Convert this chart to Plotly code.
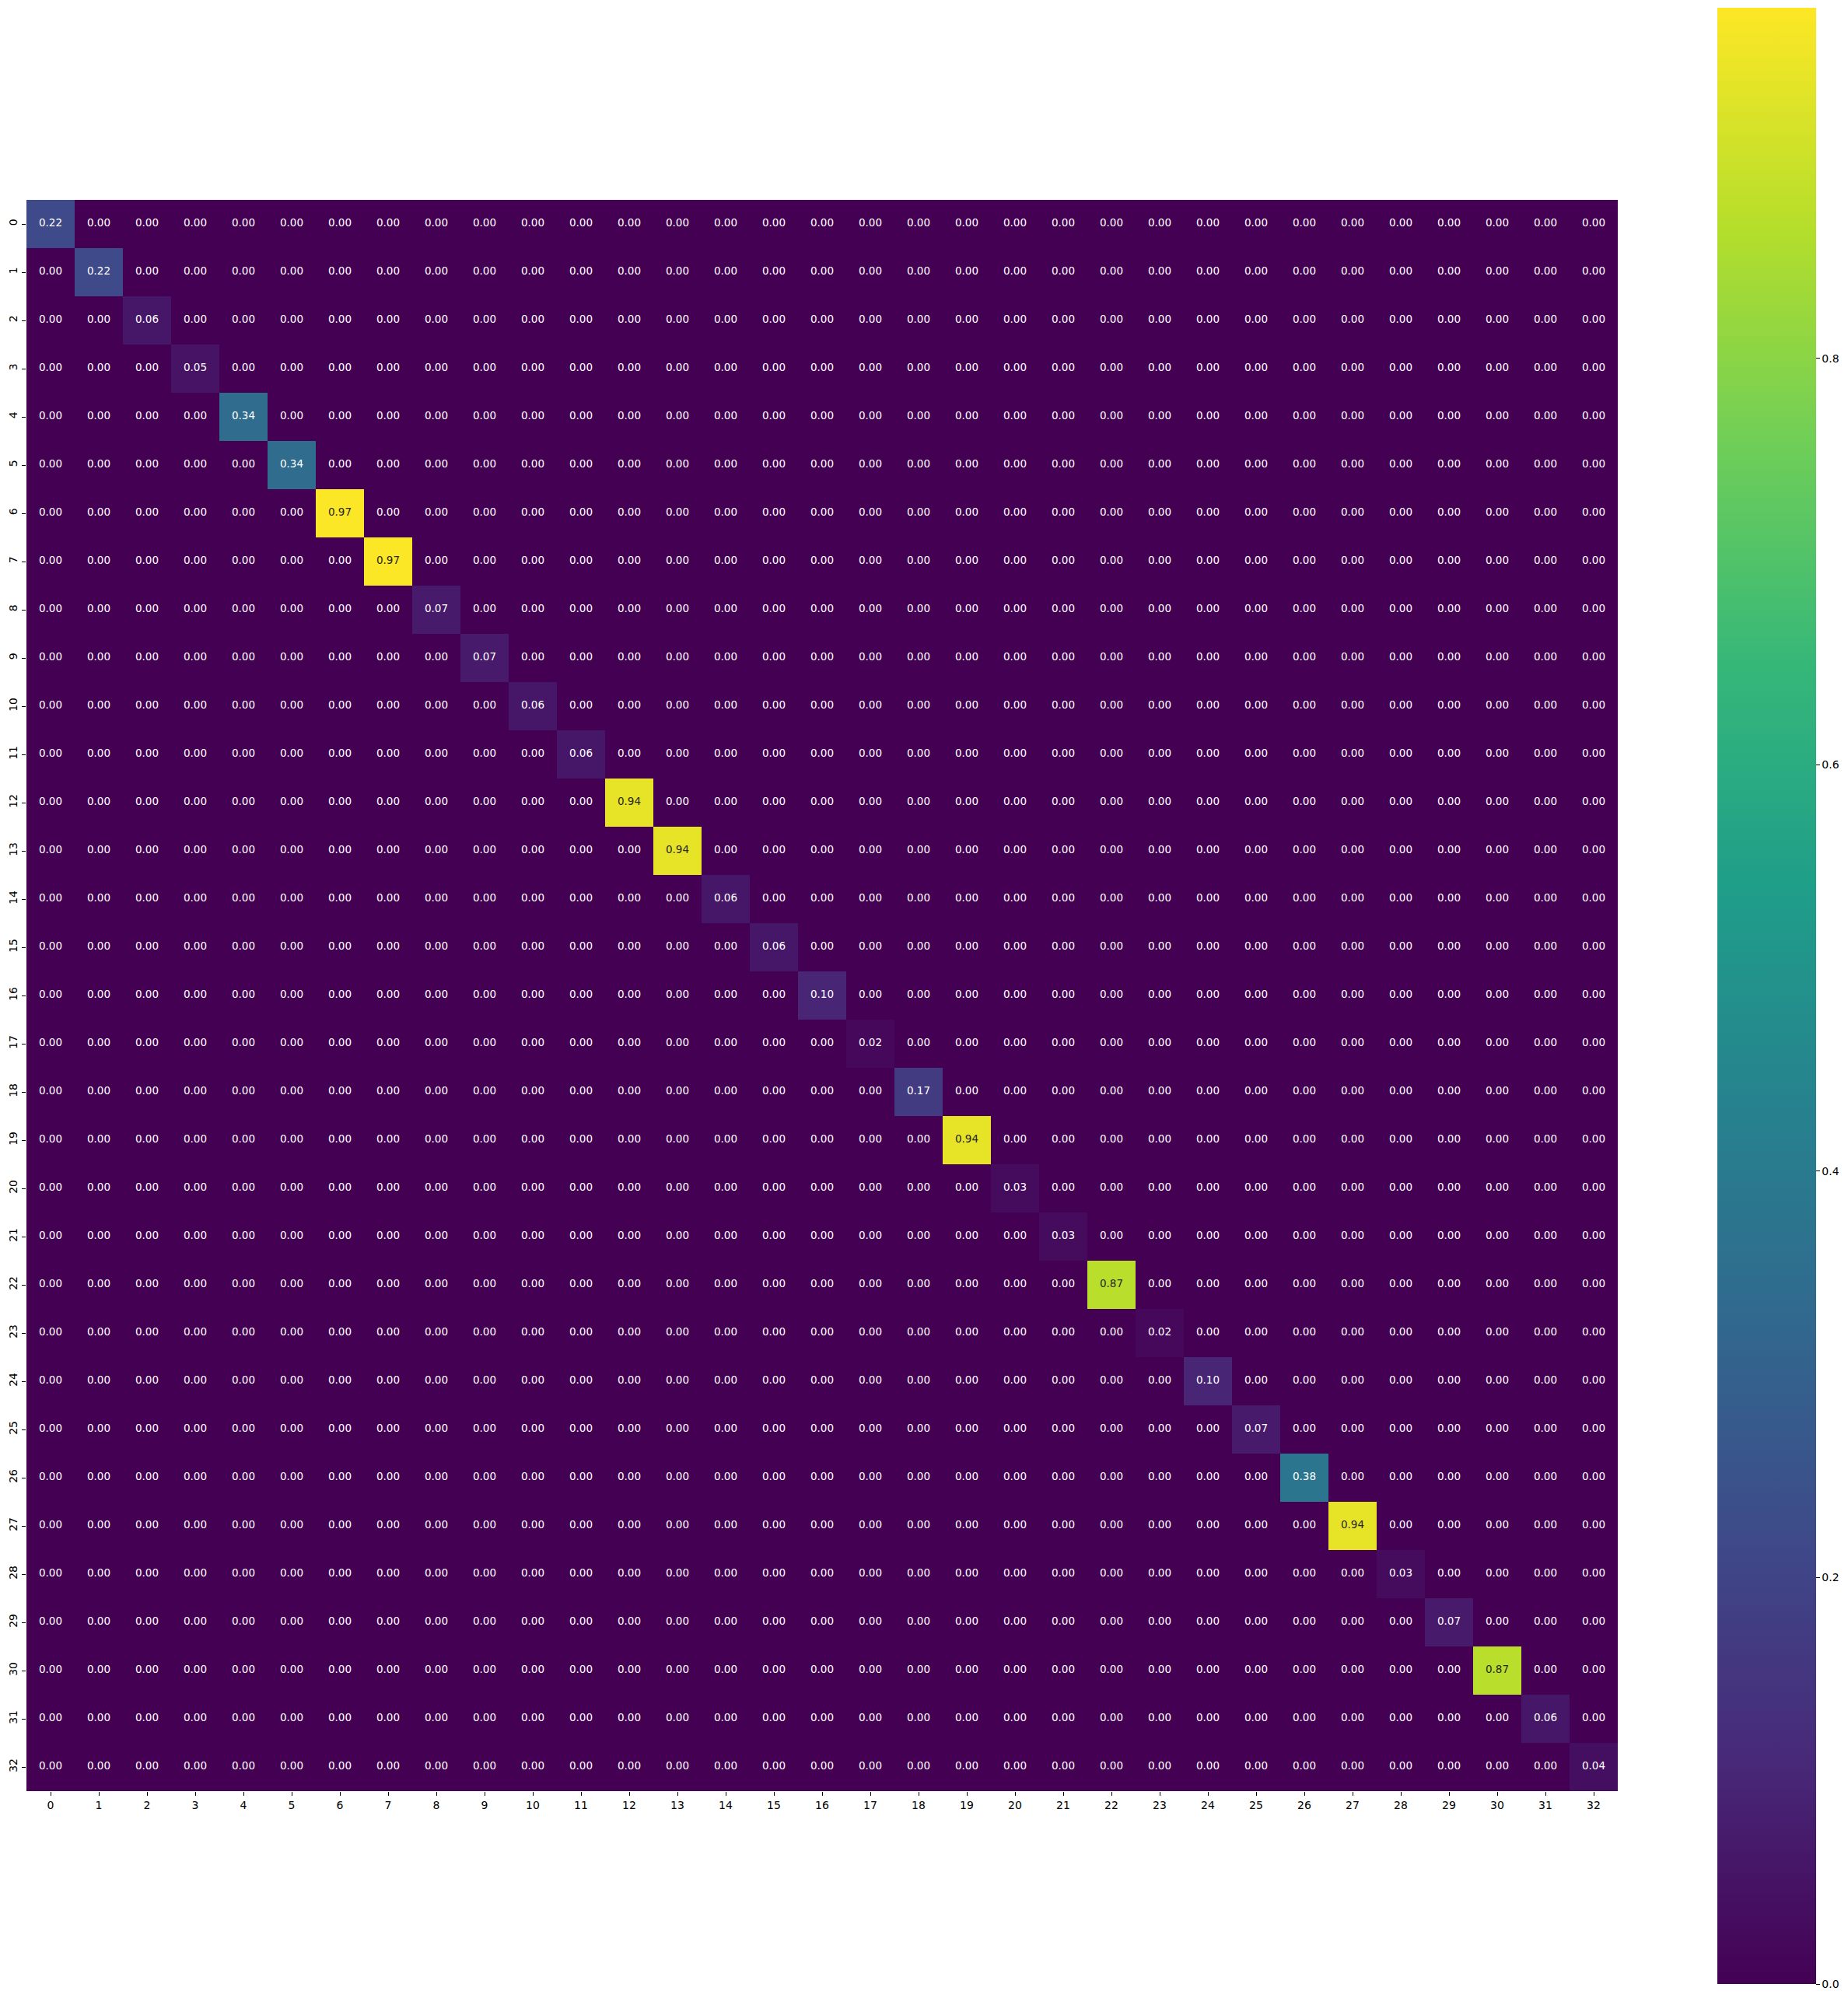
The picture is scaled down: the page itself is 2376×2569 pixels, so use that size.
import plotly.graph_objects as go

labels = list(range(33))
diag_values = [0.22, 0.22, 0.06, 0.05, 0.34, 0.34, 0.97, 0.97, 0.07, 0.07,
               0.06, 0.06, 0.94, 0.94, 0.06, 0.06, 0.10, 0.02, 0.17, 0.94,
               0.03, 0.03, 0.87, 0.02, 0.10, 0.07, 0.38, 0.94, 0.03, 0.07,
               0.87, 0.06, 0.04]
zmax = 0.9726

n = len(labels)
z = [[(diag_values[i] if i == j else 0.0) for j in range(n)] for i in range(n)]

W, H = 2376, 2569
L, R, T, B = 34, 2080, 257, 2303
pw, ph = R - L, B - T

fig = go.Figure()
fig.add_trace(go.Heatmap(
    z=z, x=labels, y=labels, colorscale="Viridis", zmin=0, zmax=zmax,
    xgap=0, ygap=0, hoverinfo="skip",
    colorbar=dict(
        thickness=127, thicknessmode="pixels",
        len=2541, lenmode="pixels",
        x=(2208 - L) / pw, xanchor="left", xpad=0,
        y=1 + (T - 10) / ph, yanchor="top", ypad=0,
        outlinewidth=0,
        tickvals=[0.0, 0.2, 0.4, 0.6, 0.8],
        ticktext=["0.0", "0.2", "0.4", "0.6", "0.8"],
        ticks="outside", ticklen=5, tickwidth=1, tickcolor="#000",
        tickfont=dict(family="DejaVu Sans", size=14, color="#000"),
    ),
))

xs, ys, texts, colors = [], [], [], []
for i in range(n):
    for j in range(n):
        v = z[i][j]
        xs.append(labels[j]); ys.append(labels[i])
        texts.append(f"{v:.2f}")
        colors.append("#262626" if v / zmax > 0.6 else "#ffffff")

fig.add_trace(go.Scatter(
    x=xs, y=ys, mode="text", text=texts,
    textfont=dict(family="DejaVu Sans", size=13.5, color=colors),
    hoverinfo="skip", showlegend=False,
))

axis_common = dict(
    tickmode="array", tickvals=labels, ticktext=[str(v) for v in labels],
    ticks="outside", ticklen=5, tickwidth=1, tickcolor="#000",
    tickfont=dict(family="DejaVu Sans", size=14, color="#000"),
    showgrid=False, zeroline=False, showline=False, automargin=False,
)
fig.update_xaxes(range=[-0.5, n - 0.5], **axis_common)
fig.update_yaxes(range=[n - 0.5, -0.5], tickangle=-90, **axis_common)

fig.update_layout(
    template="none",
    width=W, height=H, autosize=False,
    margin=dict(l=L, r=W - R, t=T, b=H - B, pad=0, autoexpand=False),
    paper_bgcolor="white", plot_bgcolor="white",
    showlegend=False,
)

fig.write_html(
    "out.html",
    config={"displayModeBar": False},
    post_script="document.body.style.margin='0px';document.body.style.overflow='hidden';",
)
